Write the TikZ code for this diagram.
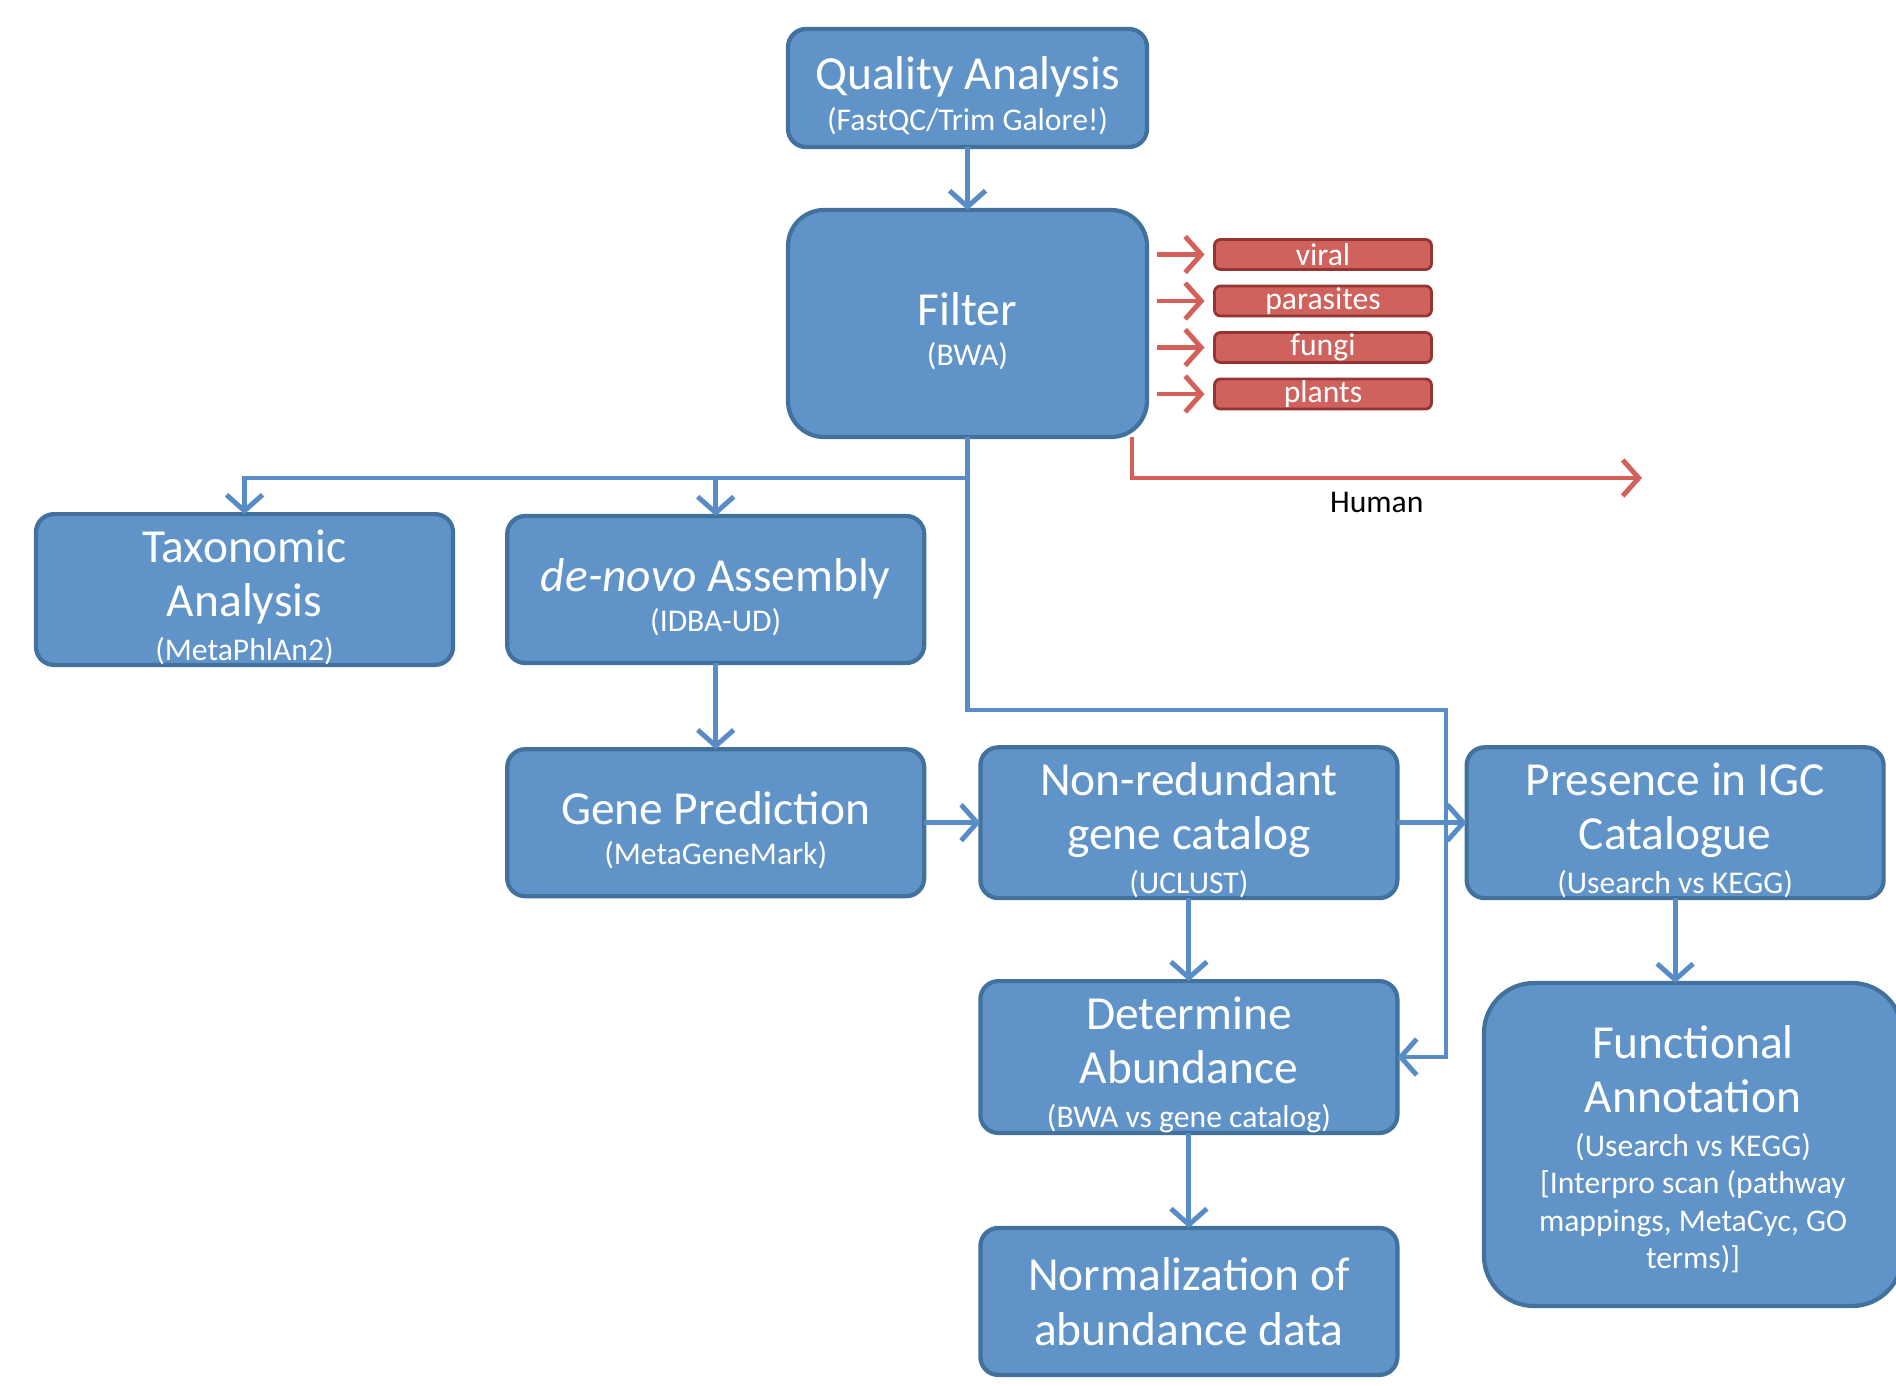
\documentclass[tikz,border=0pt]{standalone}
\usepackage{fontspec}
\setmainfont{Carlito}
\usetikzlibrary{arrows.meta,positioning}

\definecolor{boxfill}{RGB}{96,148,200}
\definecolor{boxline}{RGB}{65,113,156}
\definecolor{flowblue}{RGB}{88,140,198}
\definecolor{redfill}{RGB}{208,98,94}
\definecolor{redline}{RGB}{150,52,50}
\definecolor{flowred}{RGB}{212,96,90}

\newcommand{\bigtext}{\fontsize{13.5}{15.5}\selectfont}
\newcommand{\smalltext}{\fontsize{9}{10.6}\selectfont}
\newcommand{\topgap}{\rule{0pt}{4.8mm}}

\begin{document}
\begin{tikzpicture}[
    stage/.style={draw=boxline,fill=boxfill,line width=1.2pt,rounded corners=1.8mm,outer sep=0pt,
      text=white,align=center,inner sep=0pt,minimum width=4.17cm,minimum height=1.47cm,font=\bigtext},
    removed/.style={draw=redline,fill=redfill,line width=0.8pt,rounded corners=0.6mm,outer sep=0pt,
      text=white,inner sep=0pt,minimum width=2.17cm,minimum height=0.30cm,font=\smalltext},
    flow/.style={draw=flowblue,line width=1.4pt,-{Straight Barb[length=1.6mm,width=3.6mm]}},
    redflow/.style={draw=flowred,line width=1.4pt,-{Straight Barb[length=1.6mm,width=3.6mm]}}
    ]
    \useasboundingbox (0,0) rectangle (18.96,-13.85);

    \node (qa) [stage,minimum width=3.59cm,minimum height=1.18cm] at (9.675,-0.88)
      {\topgap Quality Analysis\\[-4pt] \smalltext (FastQC/Trim Galore!)};
    \node (filter) [stage,minimum width=3.59cm,minimum height=2.27cm,rounded corners=3.6mm] at (9.675,-3.235)
      {\topgap Filter\\[-4pt] \smalltext (BWA)};

    \foreach \name [count=\i] in {viral,parasites,fungi,plants}
      \node (r\i) [removed] at (13.23,{-2.08-0.465*\i}) {\raisebox{-1pt}{\name}};

    \node (tax) [stage] at (2.445,-5.895) {\topgap Taxonomic\\ Analysis\\[-3pt] \smalltext (MetaPhlAn2)};
    \node (denovo) [stage,right=0.542cm of tax] {\topgap\textit{de-novo} Assembly\\[-4pt] \smalltext (IDBA-UD)};
    \node (gene) [stage,below=0.862cm of denovo] {\topgap Gene Prediction\\[-4pt] \smalltext (MetaGeneMark)};
    \node (nonred) [stage,right=0.562cm of gene] {\topgap Non-redundant\\ gene catalog\\[-3pt] \smalltext (UCLUST)};
    \node (presence) [stage,right=0.692cm of nonred] {\topgap Presence in IGC\\ Catalogue\\[-3pt] \smalltext (Usearch vs KEGG)};
    \node (da) [stage,below=0.83cm of nonred] {\topgap Determine\\ Abundance\\[-3pt] \smalltext (BWA vs gene catalog)};
    \node (norm) [stage,below=0.95cm of da] {Normalization of\\ abundance data};
    \node (fa) [stage,minimum width=4.18cm,minimum height=3.23cm,rounded corners=5mm] at (16.93,-11.445)
      {\rule{0pt}{4.2mm}Functional\\ Annotation\\[-3pt] \smalltext (Usearch vs KEGG)\\[-4.9pt]
       \smalltext [Interpro scan (pathway\\[-4.9pt] \smalltext mappings, MetaCyc, GO\\[-4.9pt] \smalltext terms)]};

    \coordinate (split) at (9.675,-4.78);
    \coordinate (bend) at (14.46,-7.10);
    \coordinate (humanend) at (16.42,-4.78);

    \draw[flow] (qa) -- (filter);
    \foreach \i in {1,...,4}
      \draw[redflow,shorten <=1mm,shorten >=1mm] (filter.east |- r\i.west) -- (r\i.west);
    \draw[redflow] ([xshift=-1.5mm]filter.south east) |- node[below,pos=0.74,text=black,font=\smalltext] (human) {Human} (humanend);

    \draw[flow] (filter.south) -- (split) -| (tax.north);
    \draw[flow] (split -| denovo.north) -- (denovo.north);
    \draw[flow] (filter.south) |- (bend) |- (da.east);

    \draw[flow] (denovo) -- (gene);
    \draw[flow] (gene) -- (nonred);
    \draw[flow] (nonred) -- (presence);
    \draw[flow] (nonred) -- (da);
    \draw[flow] (da) -- (norm);
    \draw[flow] (presence) -- (presence |- fa.north);

\end{tikzpicture}
\end{document}
